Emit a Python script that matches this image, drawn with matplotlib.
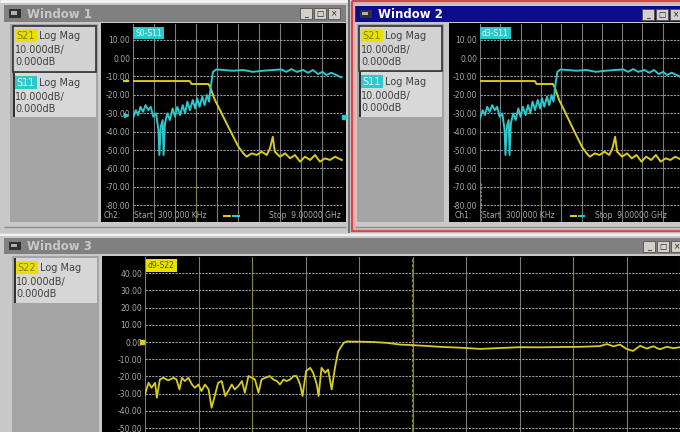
import numpy as np
import matplotlib.pyplot as plt
from matplotlib.patches import Rectangle
from matplotlib import transforms

# --- trace data (frequency in GHz, level in dB) ---
s21_freq = [0.0003, 2.43, 2.51, 3.23, 3.30, 3.51, 3.73, 4.01, 4.30, 4.52, 4.73, 4.87,
            5.09, 5.30, 5.52, 5.73, 5.87, 5.99, 6.08, 6.30, 6.52, 6.73, 6.94, 7.16,
            7.37, 7.59, 7.80, 8.01, 8.23, 8.44, 8.66, 8.95]
s21_db = [-12.5, -12.5, -14.1, -14.1, -15.6, -22.8, -28.3, -35.5, -42.8, -48.2, -51.8, -53.6,
          -51.8, -52.7, -50.9, -52.7, -49.1, -42.8, -50.9, -53.6, -51.8, -54.5, -52.7, -56.3,
          -53.6, -55.4, -52.7, -56.3, -54.5, -55.4, -53.6, -55.4]

s11_freq = [0.0003, 0.12, 0.22, 0.32, 0.43, 0.54, 0.66, 0.76, 0.87, 0.99,
            1.09, 1.13, 1.19, 1.27, 1.31, 1.37, 1.47, 1.58, 1.70, 1.80,
            1.90, 2.02, 2.13, 2.23, 2.33, 2.44, 2.56, 2.66, 2.75, 2.85,
            2.97, 3.07, 3.17, 3.26, 3.33, 3.43, 3.57, 3.86, 4.28, 4.72,
            5.14, 5.57, 6.00, 6.35, 6.57, 6.79, 7.02, 7.29, 7.50, 7.71,
            7.93, 8.12, 8.29, 8.50, 8.71, 8.93]
s11_db = [-32.8, -28.3, -31.0, -26.5, -29.2, -25.6, -28.3, -26.5, -31.9, -30.1,
          -39.1, -52.7, -37.3, -33.7, -52.7, -35.5, -30.1, -33.7, -27.4, -31.9,
          -26.5, -31.0, -25.6, -30.1, -23.7, -28.3, -22.8, -27.4, -21.9, -26.5,
          -21.0, -25.6, -20.1, -23.7, -15.6, -7.5, -6.2, -6.5, -6.9, -6.5,
          -7.5, -6.9, -6.5, -6.2, -7.5, -6.0, -7.5, -6.5, -8.0, -6.5,
          -8.7, -7.5, -9.2, -8.0, -9.2, -10.5]

s22_freq = [0.0003, 0.06, 0.11, 0.17, 0.20, 0.25, 0.31, 0.39, 0.48, 0.53,
            0.58, 0.62, 0.67, 0.73, 0.79, 0.84, 0.90, 0.95, 1.01, 1.07,
            1.12, 1.18, 1.23, 1.29, 1.35, 1.40, 1.46, 1.51, 1.57, 1.63,
            1.68, 1.74, 1.80, 1.85, 1.91, 1.96, 2.02, 2.10, 2.16, 2.22,
            2.27, 2.33, 2.38, 2.44, 2.50, 2.55, 2.61, 2.65, 2.71, 2.78,
            2.83, 2.89, 2.92, 2.97, 3.03, 3.08, 3.14, 3.20, 3.25, 3.34,
            3.39, 3.62, 3.84, 4.07, 4.29, 4.49, 4.74, 4.96, 5.30, 5.64,
            5.97, 6.31, 6.64, 6.98, 7.32, 7.65, 7.77, 7.88, 7.99, 8.10,
            8.21, 8.33, 8.44, 8.55, 8.66, 8.78, 8.89, 9.00]
s22_db = [-30.5, -23.7, -26.6, -23.7, -32.4, -21.8, -20.8, -22.3, -20.8, -21.8,
          -27.6, -20.8, -22.7, -20.8, -24.7, -26.6, -24.7, -28.5, -24.7, -27.6,
          -38.2, -30.5, -23.7, -22.7, -31.4, -28.5, -24.7, -27.6, -25.6, -22.7,
          -29.5, -19.8, -20.8, -21.8, -29.5, -21.8, -20.8, -19.8, -21.8, -22.7,
          -24.7, -21.8, -22.7, -21.8, -19.8, -19.8, -24.7, -31.4, -16.9, -15.0,
          -17.9, -24.7, -31.4, -15.0, -17.9, -16.0, -27.6, -14.1, -5.4, -0.6,
          0.3, 0.2, 0.0, -0.5, -1.5, -1.8, -2.3, -2.8, -3.3, -4.0,
          -3.5, -3.0, -3.1, -2.9, -2.8, -2.4, -1.2, -2.5, -1.5, -4.0,
          -5.2, -2.2, -3.8, -2.5, -4.2, -2.8, -3.6, -3.0]

ticks_top = [10, 0, -10, -20, -30, -40, -50, -60, -70, -80]
ticks_bottom = [40, 30, 20, 10, 0, -10, -20, -30, -40, -50]
F_START, F_STOP = 0.0003, 9.0

YEL = '#d8cc1c'
CYN = '#2cc8cc'
W, H = 680, 432

fig = plt.figure(figsize=(W / 100, H / 100), dpi=100, facecolor='#d4d4d4')
ui = fig.add_axes([0, 0, 1, 1], zorder=0)
ui.set_xlim(0, W)
ui.set_ylim(H, 0)
ui.axis('off')
top = fig.add_axes([0, 0, 1, 1], zorder=10)
top.set_xlim(0, W)
top.set_ylim(H, 0)
top.axis('off')
top.patch.set_alpha(0)


def rect(ax, x0, y0, x1, y1, fc, ec='none', lw=0, z=1):
    ax.add_patch(Rectangle((x0, y0), x1 - x0, y1 - y0, facecolor=fc,
                           edgecolor=ec, linewidth=lw, zorder=z))


def hline(ax, x0, x1, y, c, lw=1):
    ax.plot([x0, x1], [y, y], color=c, lw=lw, solid_capstyle='butt')


def vline(ax, x, y0, y1, c, lw=1):
    ax.plot([x, x], [y0, y1], color=c, lw=lw, solid_capstyle='butt')


def buttons(x, y):
    for i, g in enumerate(['_', '\u25a1', '\u00d7']):
        bx = x + i * 14
        rect(ui, bx, y, bx + 12, y + 11, '#d4d0c8', '#505050', 0.6, z=3)
        ui.text(bx + 6, y + 5.5, g, fontsize=5.5, color='#202020',
                ha='center', va='center', zorder=4)


def title_bar(x0, y0, x1, y1, fc, tc, title, bx):
    rect(ui, x0, y0, x1, y1, fc, z=2)
    rect(ui, x0 + 5, y0 + 4, x0 + 17, y1 - 4, '#303030', z=3)
    rect(ui, x0 + 7, y0 + 6, x0 + 13, y1 - 7, '#b0b0b0', z=3)
    ui.text(x0 + 23, (y0 + y1) / 2 + 0.5, title, fontsize=8.5, weight='bold',
            color=tc, va='center', zorder=4)
    buttons(bx, y0 + 3)


def legend_box(x0, y0, x1, y1, param, pc, ptc, fc, framed):
    rect(ui, x0, y0, x1, y1, fc, '#303030' if framed else 'none',
         1.2 if framed else 0, z=2)
    if not framed:
        rect(ui, x0, y0, x0 + 2, y1, '#303030', z=3)
    rect(ui, x0 + 2, y0 + 3, x0 + 24, y0 + 16, pc, z=3)
    ui.text(x0 + 3, y0 + 10, param, fontsize=7, color=ptc, va='center', zorder=4)
    ui.text(x0 + 26, y0 + 10, 'Log Mag', fontsize=7, color='#404040', va='center', zorder=4)
    ui.text(x0 + 2, y0 + 24, '10.000dB/', fontsize=7, color='#404040', va='center', zorder=4)
    ui.text(x0 + 2, y0 + 36, '0.000dB', fontsize=7, color='#404040', va='center', zorder=4)


def trace_axes(x0, y0, x1, y1, ylim, yticks):
    ax = fig.add_axes([x0 / W, 1 - y1 / H, (x1 - x0) / W, (y1 - y0) / H], zorder=2)
    ax.set_facecolor('black')
    ax.set_xlim(F_START, F_STOP)
    ax.set_ylim(*ylim)
    ax.set_xticks(np.linspace(F_START, F_STOP, 11))
    ax.set_yticks(yticks)
    ax.set_yticklabels([f'{v:.2f}' for v in yticks])
    ax.tick_params(axis='x', length=0, labelbottom=False)
    ax.tick_params(axis='y', length=0, labelsize=5.5, labelcolor='#a8a8a8', pad=2)
    for s in ax.spines.values():
        s.set_visible(False)
    ax.xaxis.grid(True, color='#7c7c7c', lw=0.8)
    ax.yaxis.grid(True, color='#9a9a9a', lw=0.8, ls=(0, (2, 1)))
    ax.set_axisbelow(True)
    return ax


# ---------------- Window 1 ----------------
rect(ui, 0, 0, 350, 233, '#c8c8c8')
hline(ui, 0, 350, 1, '#f4f4f4', 2)
vline(ui, 349, 0, 233, '#707070', 1.5)
title_bar(4, 5, 346, 22, '#808080', '#c8c8c8', 'Window 1', 300)
rect(ui, 10, 24, 98, 222, '#a4a4a4')
legend_box(13, 26, 96, 72, 'S21', '#e8e000', '#8a7c00', '#d2d2d2', True)
legend_box(13, 73, 96, 117, 'S11', CYN, '#e8ffff', '#d8d8d8', False)
rect(ui, 101, 23, 346, 222, 'black')
hline(ui, 4, 346, 227, '#8c8c8c', 1)

ax1 = trace_axes(133, 24, 343, 222, (-89.1, 18.5), ticks_top)
ax1.plot(s21_freq, s21_db, color=YEL, lw=1.4)
ax1.plot(s11_freq, s11_db, color=CYN, lw=1.4)
for f in [2.7, 7.2]:
    ax1.plot([f, f], [-68, -89], color='#8a8420', lw=0.8, ls=(0, (2, 1.5)))
tr1 = transforms.blended_transform_factory(ax1.transAxes, ax1.transData)
ax1.plot([-0.035], [s21_db[0]], marker='_', ms=5, mew=1.5, color=YEL, transform=tr1, clip_on=False)
ax1.plot([-0.035], [s11_db[0] + 2], marker='>', ms=3, color=CYN, transform=tr1, clip_on=False)
ax1.plot([1.005], [-32], marker='s', ms=2.5, color=CYN, transform=tr1, clip_on=False)

top.text(135, 33, 'S0-S11', fontsize=5.5, color='#f0ffff', va='center',
         bbox=dict(boxstyle='square,pad=0.25', fc=CYN, ec='none'))
top.text(104, 215.5, 'Ch2:', fontsize=5.5, color='#a8a8a8', va='center')
top.text(134, 215.5, 'Start  300.000 KHz', fontsize=5.5, color='#a8a8a8', va='center')
hline(top, 223, 231, 215.5, YEL, 1.5)
hline(top, 232, 240, 215.5, CYN, 1.5)
top.text(341, 215.5, 'Stop  9.00000 GHz', fontsize=5.5, color='#a8a8a8', va='center', ha='right')

# ---------------- Window 2 ----------------
rect(ui, 351, 0, 680, 233, '#c8c8c8')
rect(ui, 352, 1, 684, 231, 'none', '#d04848', 1.6, z=5)
rect(ui, 354, 3, 684, 229, 'none', '#e8a8a8', 1.0, z=5)
title_bar(355, 6, 680, 22, '#0c0c8e', 'white', 'Window 2', 642)
rect(ui, 357, 24, 444, 222, '#a4a4a4')
legend_box(359, 26, 442, 71, 'S21', '#e8e000', '#8a7c00', '#d2d2d2', True)
legend_box(359, 72, 442, 117, 'S11', CYN, '#e8ffff', '#d8d8d8', False)
rect(ui, 449, 23, 680, 222, 'black')
hline(ui, 355, 680, 227, '#8c8c8c', 1)

ax2 = trace_axes(480, 24, 683, 222, (-89.1, 18.5), ticks_top)
ax2.plot(s21_freq, s21_db, color=YEL, lw=1.4)
ax2.plot(s11_freq, s11_db, color=CYN, lw=1.4)
for f in [0.05, 2.7]:
    ax2.plot([f, f], [-68, -89], color='#8a8420', lw=0.8, ls=(0, (2, 1.5)))

top.text(482, 33, 'd3-S11', fontsize=5.5, color='#f0ffff', va='center',
         bbox=dict(boxstyle='square,pad=0.25', fc=CYN, ec='none'))
top.text(455, 215.5, 'Ch1:', fontsize=5.5, color='#a8a8a8', va='center')
top.text(482, 215.5, 'Start  300.000 KHz', fontsize=5.5, color='#a8a8a8', va='center')
hline(top, 570, 577, 215.5, YEL, 1.5)
hline(top, 578, 585, 215.5, CYN, 1.5)
top.text(595, 215.5, 'Stop  9.00000 GHz', fontsize=5.5, color='#a8a8a8', va='center')

# ---------------- Window 3 ----------------
rect(ui, 0, 234, 680, 432, '#c8c8c8')
hline(ui, 0, 680, 235, '#f0f0f0', 1.5)
title_bar(4, 238, 680, 254, '#808080', '#c8c8c8', 'Window 3', 643)
rect(ui, 12, 256, 99, 432, '#a4a4a4')
legend_box(14, 258, 97, 303, 'S22', '#e8e000', '#8a7c00', '#d6d6d6', False)
rect(ui, 102, 256, 680, 432, 'black')

ax3 = trace_axes(145, 257, 680, 432, (-52.3, 49.4), ticks_bottom)
for f in [1.8, 4.5, 7.2]:
    ax3.axvline(f, color='#8a8420', lw=0.8, ls=(0, (3, 1.5)))
ax3.plot(s22_freq, s22_db, color=YEL, lw=1.3)
tr3 = transforms.blended_transform_factory(ax3.transAxes, ax3.transData)
ax3.plot([-0.006], [0], marker='s', ms=3, color=YEL, transform=tr3, clip_on=False)

top.text(148, 265.5, 'd9-S22', fontsize=5.5, color='#5a5000', va='center',
         bbox=dict(boxstyle='square,pad=0.25', fc='#e8e000', ec='none'))

fig.savefig('out.png', dpi=100, facecolor=fig.get_facecolor())
